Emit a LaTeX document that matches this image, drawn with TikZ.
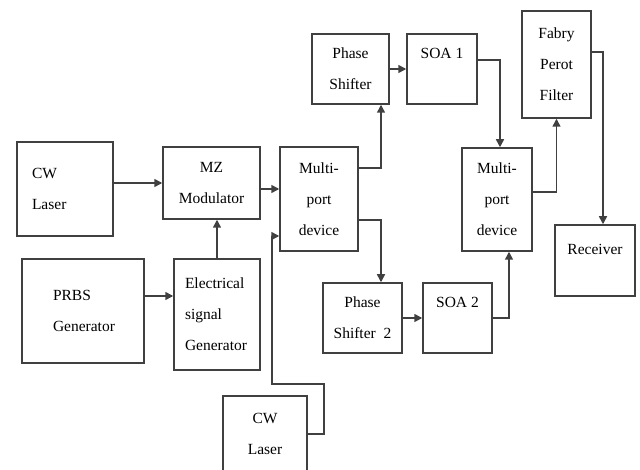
\documentclass[tikz,border=0pt]{standalone}
\usepackage{fontspec}
\setmainfont{Liberation Serif}
\usepackage{tikz}
\usetikzlibrary{arrows.meta,calc,positioning}

\begin{document}
\begin{tikzpicture}[
  x=1pt, y=-1pt,
  box/.style={draw=black!75, line width=1.5pt, rectangle, align=center, inner sep=0pt,
    font=\rmfamily\fontsize{15.5}{31}\selectfont},
  arr/.style={-{Triangle[length=8pt,width=8pt]}, draw=black!75, line width=1.5pt}
]
\useasboundingbox (0,0) rectangle (640,470);
% transmitter side
\node[box, minimum width=96pt, minimum height=94pt, text width=66pt, align=left] (cw1) at (65,189) {CW\\Laser};
\node[box, minimum width=97pt, minimum height=72pt] (mz) at (211.5,183) {MZ\\Modulator};
\node[box, minimum width=122pt, minimum height=104pt, text width=60pt, align=left] (prbs) at (83,311) {PRBS\\Generator};
\node[box, minimum width=86pt, minimum height=111pt, text width=64pt, align=left] (esg) at (217,314.5) {Electrical\\signal\\Generator};
\node[box, minimum width=84pt, minimum height=76pt] (cw2) at (265,434) {CW\\Laser};
% interferometer arms
\node[box, minimum width=78pt, minimum height=104pt] (mp1) at (319,199) {Multi-\\port\\device};
\node[box, minimum width=77pt, minimum height=70pt] (ps1) at (350.5,69) {Phase\\Shifter};
\node[box, minimum width=70pt, minimum height=70pt] (soa1) at (442,69) {SOA 1\\\mbox{}};
\node[box, minimum width=79pt, minimum height=70pt] (ps2) at (362.5,318) {Phase\\Shifter\ \ 2};
\node[box, minimum width=69pt, minimum height=70pt] (soa2) at (457.5,318) {SOA 2\\\mbox{}};
\node[box, minimum width=70pt, minimum height=103pt] (mp2) at (497,199.5) {Multi-\\port\\device};
% receiver side
\node[box, minimum width=69pt, minimum height=107pt] (fpf) at (556.5,64.5) {Fabry\\Perot\\Filter};
\node[box, minimum width=80pt, minimum height=71pt, text depth=22pt] (rx) at (595,260.5) {Receiver};
\coordinate (j1) at (324,384);
\coordinate (j2) at (272,384);
\draw[arr] (cw1.east |- mz.west) -- (mz.west);
\draw[arr] ([yshift=-6pt]mz.east) -- ([yshift=-6pt]mz.east -| mp1.west);
\draw[arr] (esg.north) -- (esg.north |- mz.south);
\draw[arr] ([yshift=15pt]prbs.east) -- ([yshift=15pt]prbs.east -| esg.west);
\draw[arr] (cw2.east) -| (j1) -- (j2) |- ([yshift=-37pt]mp1.west);
\draw[arr] ([yshift=31pt]mp1.east) -| ([xshift=30.5pt]ps1.south);
\draw[arr] (ps1.east) -- (soa1.west);
\draw[arr] ([yshift=9pt]soa1.east) -| ([xshift=3pt]mp2.north);
\draw[arr] ([yshift=-21pt]mp1.east) -| ([xshift=18.5pt]ps2.north);
\draw[arr] (ps2.east) -- (soa2.west);
\draw[arr] (soa2.east) -| ([xshift=12pt]mp2.south);
\draw[arr] ([yshift=7.5pt]mp2.east) -| (fpf.south);
\draw[arr] ([yshift=12.5pt]fpf.east) -| ([xshift=8pt]rx.north);
\end{tikzpicture}
\end{document}
